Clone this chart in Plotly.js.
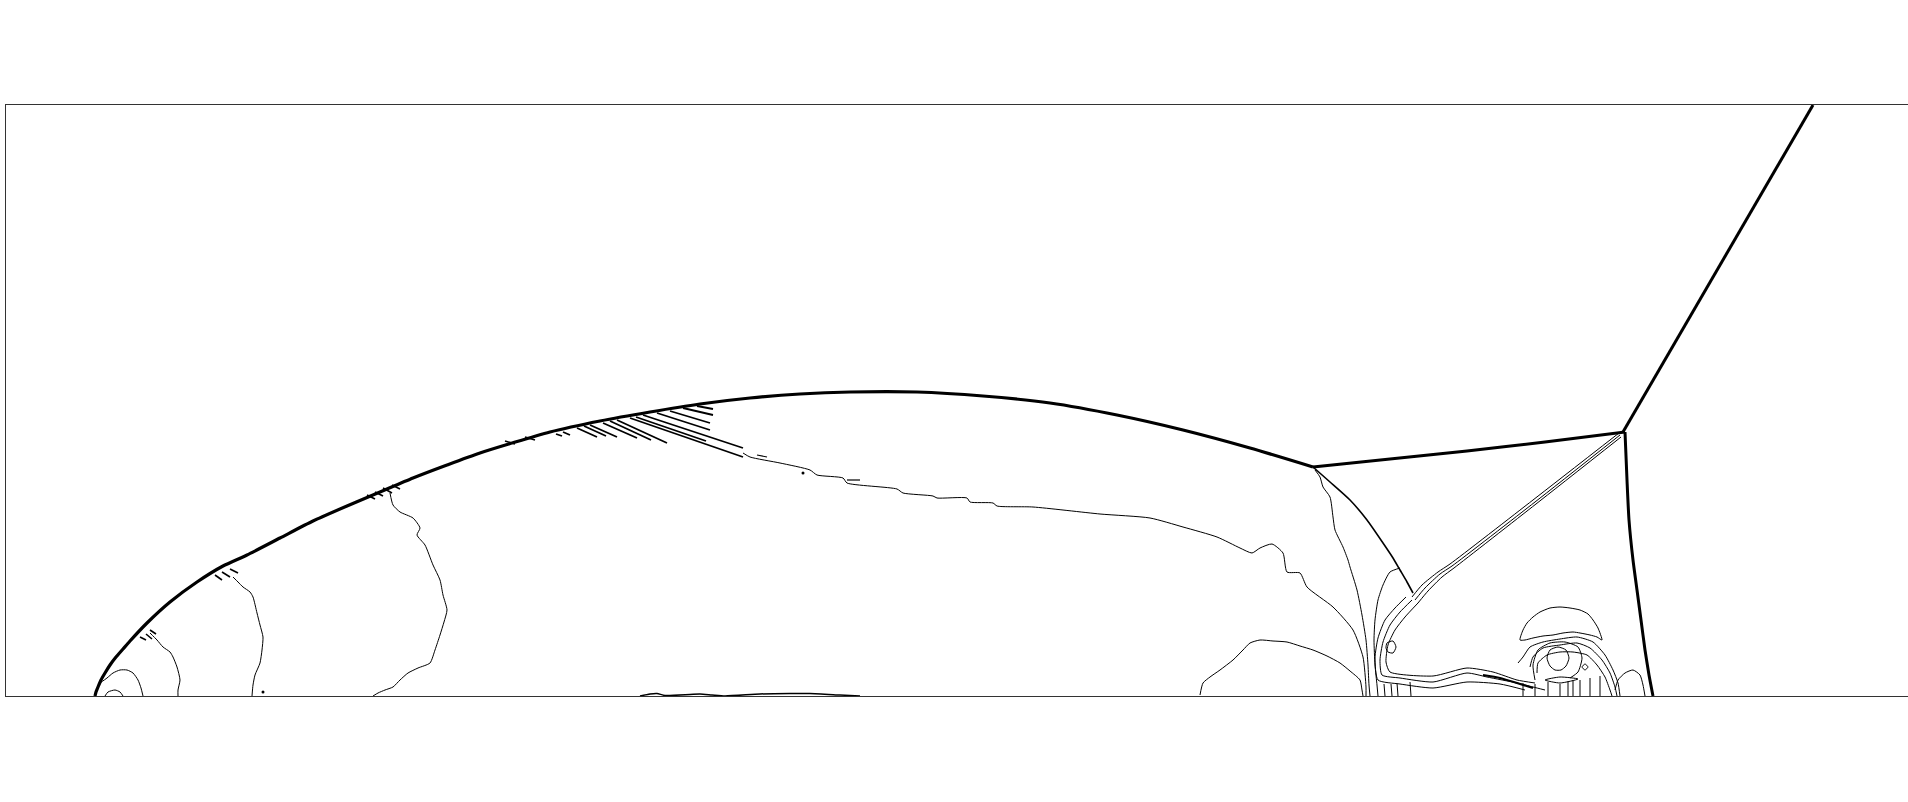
<!DOCTYPE html>
<html>
<head>
<meta charset="utf-8">
<script src="https://cdn.plot.ly/plotly-3.0.1.min.js"></script>
<style>html,body{margin:0;padding:0;background:#fff;overflow:hidden}#chart{width:1908px;height:802px}</style>
</head>
<body>
<div id="chart"></div>
<script>
// Contour lines of the density field, in grid units (x: 0..1902, y: 0..591)
const bowShock = [[89,0],[90,4],[92,9],[95,16],[99,23],[104,31],[110,39],[117,47],[124,55],[141,73],[164,94],[191,114],[217,130],[241,141],[274,158],[307,175],[341,190],[374,204],[407,218],[441,231],[474,243],[544,264],[594,275],[644,284],[694,292],[744,298],[794,302],[844,304],[911,304],[977,300],[1044,293],[1111,281],[1177,266],[1244,248],[1307,229]];
const machStem = [[1307,229],[1384,237],[1461,245],[1539,254],[1619,264]];
const incidentShock = [[1617,264],[1807,591]];
const reflectedFront = [[1619,264],[1621,216],[1623,176],[1627,136],[1631,106],[1635,76],[1639,46],[1643,21],[1647,0]];
const reflectedShock = [[1307,229],[1324,214],[1344,196],[1361,176],[1377,153],[1387,138],[1394,126],[1401,114],[1407,103]];
const slipLine1 = [[1614,261],[1529,194],[1446,130],[1434,122],[1419,108],[1409,96]];
const slipLine2 = [[1615,259],[1530,192],[1448,128],[1436,119],[1422,105],[1412,93]];
const slipLine3 = [[1613,263],[1527,196],[1444,132],[1432,124],[1416,111],[1406,99]];
const jet1 = [[1406,96],[1394,84],[1384,71],[1377,54],[1374,36],[1376,21],[1394,18],[1427,14],[1461,23],[1481,19],[1511,13],[1527,9],[1539,6]];
const jet2 = [[1412,93],[1399,79],[1389,66],[1382,51],[1380,34],[1384,24],[1427,20],[1461,28],[1487,24],[1511,16],[1529,13]];
const jet3 = [[1400,99],[1389,88],[1379,76],[1372,58],[1369,38],[1372,16],[1394,12],[1427,8],[1461,14],[1494,12],[1519,6]];
const jetCore = [[1477,21],[1494,18],[1511,13],[1527,8]];
const curlLoop = [[1381,53],[1387,55],[1390,49],[1387,43],[1382,44],[1380,48],[1381,53]];
const wavyLine = [[1309,226],[1314,219],[1317,209],[1324,199],[1327,179],[1329,166],[1337,149],[1342,136],[1344,129],[1351,106],[1356,81],[1360,56],[1362,31],[1363,11],[1364,0]];
const longContour = [[737,243],[744,239],[774,233],[804,226],[811,221],[837,218],[841,213],[891,207],[897,203],[927,200],[931,198],[961,198],[964,194],[987,193],[991,190],[1027,189],[1094,182],[1144,178],[1177,169],[1211,159],[1234,148],[1246,143],[1254,148],[1266,152],[1277,143],[1281,124],[1294,123],[1301,109],[1327,89],[1347,66],[1357,39],[1360,9],[1360,0]];
const hillContour = [[1194,1],[1197,13],[1204,19],[1214,26],[1227,36],[1237,46],[1244,53],[1254,56],[1267,55],[1281,54],[1294,50],[1307,46],[1321,40],[1334,33],[1344,25],[1354,16],[1356,6],[1357,0]];
const innerContour = [[1394,128],[1384,124],[1377,111],[1372,96],[1369,76],[1368,56],[1369,31],[1371,11],[1372,0]];
const wallTicks = [[1378,12],[1379,0],null,[1385,12],[1386,0],null,[1391,13],[1392,0],null,[1404,14],[1405,0],
  null,[1517,13],[1517,0],null,[1529,12],[1529,0],null,[1542,14],[1542,0],null,[1554,12],[1554,0],null,[1562,15],[1562,0],
  null,[1567,16],[1567,0],null,[1574,16],[1574,0],null,[1584,18],[1584,0],null,[1594,20],[1594,0]];
const mushroomCap = [[1514,56],[1517,66],[1521,73],[1527,79],[1534,84],[1544,88],[1554,89],[1564,88],[1574,86],[1582,82],[1587,76],[1592,68],[1596,56],[1591,59],[1584,61],[1574,63],[1567,64],[1557,63],[1547,61],[1537,60],[1527,58],[1519,56],[1514,56]];
const vortexArc1 = [[1512,33],[1517,39],[1524,49],[1537,54],[1554,57],[1571,59],[1587,54],[1599,41],[1607,26],[1612,13],[1614,0]];
const vortexArc2 = [[1524,29],[1527,39],[1537,48],[1554,51],[1571,53],[1584,48],[1596,36],[1604,23],[1609,9],[1611,0]];
const vortexArc3 = [[1531,23],[1532,33],[1541,41],[1554,44],[1567,44],[1581,41],[1591,31],[1599,19],[1604,6],[1606,0]];
const vortexRing = [[1529,16],[1527,31],[1532,46],[1544,53],[1559,54],[1572,49],[1576,38],[1572,24],[1564,18]];
const vortexCore = [[1552,49],[1560,46],[1563,38],[1560,30],[1555,26],[1549,26],[1544,30],[1541,38],[1544,46],[1552,49]];
const smallEddy = [[1579,32],[1582,29],[1579,26],[1576,29],[1579,32]];
const flatEddy = [[1539,16],[1554,19],[1572,17],[1554,13],[1539,16]];
const rightBump = [[1609,6],[1612,16],[1619,23],[1627,26],[1634,21],[1637,11],[1639,0]];
const lineA = [[144,63],[151,56],[157,49],[164,44],[167,39],[171,29],[174,16],[172,6],[172,0]];
const lineB = [[227,119],[232,114],[237,109],[244,104],[247,99],[251,83],[254,71],[257,59],[256,46],[254,33],[249,21],[247,11],[246,0]];
const lineC = [[384,203],[387,191],[394,184],[407,178],[414,168],[411,161],[419,151],[427,131],[434,116],[437,101],[441,86],[438,74],[434,61],[429,46],[424,33],[412,28],[402,23],[394,16],[387,9],[379,6],[372,3],[367,0]];
const line0 = [[94,13],[101,18],[107,23],[114,26],[121,26],[127,23],[132,16],[135,8],[137,0]];
const cornerLoop = [[99,0],[102,4],[109,6],[114,4],[117,0]];
const shockRipples = [[134,59],[140,56],null,[140,62],[146,57],null,[144,66],[150,62],null,
  [209,121],[216,116],null,[216,124],[224,119],null,[224,127],[232,123],null,
  [361,201],[369,197],null,[369,204],[377,200],null,[377,208],[386,203],null,[386,211],[394,207],null,
  [499,255],[509,252],null,[519,259],[529,256]];
const streaks = [[550,262],[556,260],null,[557,264],[564,261],null,[571,268],[591,259],null,[578,270],[600,260],null,[584,271],[611,259],null,[597,273],[631,258],null,
  [604,275],[645,256],null,[611,276],[661,253],null,[624,278],[737,239],null,[630,279],[700,255],null,[637,281],[737,248],null,[651,283],[704,266],null,
  [664,285],[704,273],null,[677,288],[707,281],null,[691,290],[707,287]];
const fragments = [[751,241],[761,239],null,[841,216],[854,216]];
const wallLens = [[634,0],[644,2],[651,2.5],[659,0.5],[684,1.5],[694,2],[706,1],[719,0],[754,2],[784,2.5],[804,2.5],[834,1],[854,0]];
const dots = [[257,4],[797,223]];

const curves = [
  [bowShock, 3.2], [machStem, 3], [incidentShock, 3], [reflectedFront, 3], [reflectedShock, 1.6],
  [slipLine1, 1], [slipLine2, 1], [slipLine3, 1], [jet1, 1], [jet2, 1], [jet3, 1], [jetCore, 2.2], [curlLoop, 1],
  [wavyLine, 1], [longContour, 1], [hillContour, 1], [innerContour, 1], [wallTicks, 1],
  [mushroomCap, 1], [vortexArc1, 1], [vortexArc2, 1], [vortexArc3, 1], [vortexRing, 1], [vortexCore, 1],
  [smallEddy, 1], [flatEddy, 1], [rightBump, 1], [lineA, 1], [lineB, 1], [lineC, 1], [line0, 1], [cornerLoop, 1],
  [shockRipples, 1.6], [streaks, 1.8], [fragments, 1.2], [wallLens, 1.5]
];

const traces = curves.map(([pts, w]) => ({
  type: 'scatter', mode: 'lines',
  x: pts.map(p => p ? p[0] : null),
  y: pts.map(p => p ? p[1] : null),
  line: {color: '#000', width: w, shape: 'spline', smoothing: 0.6},
  connectgaps: false, hoverinfo: 'skip'
}));
traces.push({type: 'scatter', mode: 'markers', x: dots.map(p => p[0]), y: dots.map(p => p[1]),
  marker: {color: '#000', size: 3}, hoverinfo: 'skip'});

const layout = {
  width: 1908, height: 802,
  margin: {l: 6, r: 0, t: 105, b: 106, pad: 0},
  paper_bgcolor: '#fff', plot_bgcolor: '#fff',
  showlegend: false, hovermode: false,
  xaxis: {range: [0, 1902], showgrid: false, zeroline: false, showticklabels: false, ticks: '',
    showline: true, mirror: true, linecolor: '#333', linewidth: 1},
  yaxis: {range: [0, 591], showgrid: false, zeroline: false, showticklabels: false, ticks: '',
    showline: true, mirror: false, linecolor: '#333', linewidth: 1}
};
Plotly.newPlot('chart', traces, layout, {displayModeBar: false, staticPlot: true});
</script>
</body>
</html>
